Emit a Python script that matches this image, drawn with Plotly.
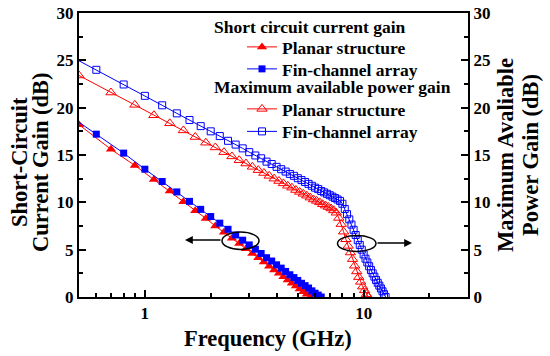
import plotly.graph_objects as go

# ---------------- data ----------------
sc_planar_f = [0.5, 0.7, 0.9, 1.1, 1.3, 1.5, 1.7, 1.9, 2.1, 2.3, 2.5, 2.7, 2.9, 3.1,
               3.3, 3.5, 3.7, 3.9, 4.1, 4.3, 4.5, 4.7, 4.9, 5.1, 5.3, 5.5, 5.7]
sc_planar_v = [18.2, 15.6, 13.9, 12.4, 11.2, 10.05, 9.1, 8.3, 7.5, 6.85, 6.2, 5.65, 5.1, 4.6,
               4.15, 3.7, 3.25, 2.85, 2.5, 2.15, 1.8, 1.45, 1.15, 0.85, 0.55, 0.3, 0.0]

sc_fin_f = [0.4, 0.6, 0.8, 1.0, 1.2, 1.4, 1.6, 1.8, 2.0, 2.2, 2.4, 2.6, 2.8, 3.0, 3.2, 3.4,
            3.6, 3.8, 4.0, 4.2, 4.4, 4.6, 4.8, 5.0, 5.2, 5.4, 5.6, 5.8, 6.0, 6.2, 6.4]
sc_fin_v = [20.0, 17.2, 15.2, 13.5, 12.2, 11.1, 10.1, 9.26, 8.5, 7.8, 7.15, 6.55, 6.0, 5.5,
            5.05, 4.6, 4.15, 3.8, 3.4, 3.05, 2.7, 2.35, 2.05, 1.75, 1.45, 1.2, 0.95, 0.65,
            0.4, 0.2, 0.0]

mag_planar_f = [0.5, 0.7, 0.9, 1.1, 1.3, 1.5, 1.7, 1.9, 2.1, 2.3, 2.5, 2.7, 2.9, 3.1, 3.3,
                3.5, 3.7, 3.9, 4.1, 4.3, 4.5, 4.7, 4.9, 5.1, 5.3, 5.5, 5.7, 5.9, 6.1, 6.3,
                6.5, 6.7, 6.9, 7.1, 7.3, 7.5, 7.7, 7.9, 8.1, 8.3, 8.5, 8.7, 8.9, 9.1, 9.3,
                9.5, 9.7, 9.9, 10.1, 10.3, 10.5]
mag_planar_v = [23.4, 21.6, 20.3, 19.2, 18.35, 17.6, 16.9, 16.3, 15.8, 15.3, 14.85, 14.45,
                14.1, 13.75, 13.4, 13.1, 12.8, 12.5, 12.25, 12.0, 11.75, 11.55, 11.3, 11.1,
                10.9, 10.7, 10.5, 10.3, 10.15, 10.0, 9.8, 9.65, 9.5, 9.35, 9.15, 8.9, 8.35,
                7.7, 6.9, 6.1, 5.4, 4.7, 4.0, 3.3, 2.7, 2.1, 1.6, 1.1, 0.7, 0.3, 0.0]

mag_fin_f = [0.4, 0.6, 0.8, 1.0, 1.2, 1.4, 1.6, 1.8, 2.0, 2.2, 2.4, 2.6, 2.8, 3.0, 3.2, 3.4,
             3.6, 3.8, 4.0, 4.2, 4.4, 4.6, 4.8, 5.0, 5.2, 5.4, 5.6, 5.8, 6.0, 6.2, 6.4, 6.6,
             6.8, 7.0, 7.2, 7.4, 7.6, 7.8, 8.0, 8.2, 8.4, 8.6, 8.8, 9.0, 9.2, 9.4, 9.6, 9.8,
             10.0, 10.2, 10.4, 10.6, 10.8, 11.0, 11.2, 11.4, 11.6, 11.8, 12.0, 12.2, 12.4, 12.6]
mag_fin_v = [26.15, 24.0, 22.45, 21.25, 20.25, 19.4, 18.7, 18.05, 17.5, 17.0, 16.5, 16.1,
             15.7, 15.3, 14.95, 14.65, 14.3, 14.05, 13.75, 13.5, 13.25, 13.0, 12.8, 12.55,
             12.35, 12.15, 11.95, 11.75, 11.55, 11.4, 11.2, 11.05, 10.9, 10.75, 10.6, 10.45,
             10.3, 10.15, 9.85, 9.3, 8.75, 8.2, 7.65, 7.1, 6.55, 6.0, 5.5, 5.0, 4.5, 4.05,
             3.65, 3.25, 2.85, 2.5, 2.15, 1.8, 1.5, 1.2, 0.9, 0.6, 0.3, 0.0]

x_major = [1, 10]
x_major_text = ["1", "10"]
x_minor = [0.6, 0.7, 0.8, 0.9, 2, 3, 4, 5, 6, 7, 8, 9, 20]

# ---------------- styling ----------------
FONT = "Liberation Serif"
RED = "#ff0000"
BLUE = "#0000ff"
W, H = 550, 356
L, R, T, B = 79, 82, 13, 59
PW, PH = W - L - R, H - T - B


def px(xp):
    return (xp - L) / PW


def py(yp):
    return (H - B - yp) / PH


fig = go.Figure()

fig.add_trace(go.Scatter(
    x=mag_planar_f, y=mag_planar_v, yaxis="y2", mode="lines+markers",
    name="Planar structure", legend="legend3", showlegend=True,
    line=dict(color=RED, width=1),
    marker=dict(symbol="triangle-up-open", size=9, color=RED, line=dict(width=1, color=RED))))
fig.add_trace(go.Scatter(
    x=mag_fin_f, y=mag_fin_v, yaxis="y2", mode="lines+markers",
    name="Fin-channel array", legend="legend4", showlegend=True,
    line=dict(color=BLUE, width=1),
    marker=dict(symbol="square-open", size=7, color=BLUE, line=dict(width=1, color=BLUE))))
fig.add_trace(go.Scatter(
    x=sc_planar_f, y=sc_planar_v, mode="lines+markers",
    name="Planar structure", legend="legend", showlegend=True,
    line=dict(color=RED, width=1),
    marker=dict(symbol="triangle-up", size=9, color=RED)))
fig.add_trace(go.Scatter(
    x=sc_fin_f, y=sc_fin_v, mode="lines+markers",
    name="Fin-channel array", legend="legend2", showlegend=True,
    line=dict(color=BLUE, width=1),
    marker=dict(symbol="square", size=7, color=BLUE)))

tickfont = dict(family=FONT, size=17, color="black", weight="bold")
legfont = dict(family=FONT, size=17.5, color="black", weight="bold")
titlefont = dict(family=FONT, size=22.5, color="black", weight="bold")

yaxis_common = dict(
    range=[0, 30], dtick=5, ticks="inside", ticklen=7, tickwidth=1.5, tickcolor="black",
    showline=True, linewidth=2, linecolor="black", showgrid=False, zeroline=False,
    tickfont=tickfont, automargin=False,
    minor=dict(dtick=2.5, ticks="inside", ticklen=4, tickwidth=1.5, tickcolor="black", showgrid=False),
)


def leg(yc):
    return dict(x=px(242), xanchor="left", y=py(yc), yanchor="middle",
                bgcolor="rgba(0,0,0,0)", borderwidth=0, font=legfont)


fig.update_layout(
    template="none",
    width=W, height=H, autosize=False,
    margin=dict(l=L, r=R, t=T, b=B, pad=0, autoexpand=False),
    paper_bgcolor="white", plot_bgcolor="white",
    font=dict(family=FONT, color="black"),
    showlegend=True,
    xaxis=dict(
        type="log", range=[-0.30103, 1.4771], tickvals=x_major, ticktext=x_major_text,
        ticks="inside", ticklen=7, tickwidth=1.5, tickcolor="black",
        showline=True, linewidth=2, linecolor="black", mirror=True,
        showgrid=False, zeroline=False, tickfont=tickfont, automargin=False,
        minor=dict(tickvals=x_minor, ticks="inside", ticklen=4, tickwidth=1.5,
                   tickcolor="black", showgrid=False),
    ),
    yaxis=dict(**yaxis_common, side="left"),
    yaxis2=dict(**yaxis_common, side="right", overlaying="y"),
    legend=leg(47),
    legend2=leg(69),
    legend3=leg(109),
    legend4=leg(131.5),
)

annotations = [
    dict(text="Short circuit current gain", x=px(212), y=py(27), xanchor="left", yanchor="middle"),
    dict(text="Maximum available power gain", x=px(212), y=py(87), xanchor="left", yanchor="middle"),
]
for a in annotations:
    a.update(xref="paper", yref="paper", showarrow=False, font=legfont)

titles = [
    dict(text="Frequency (GHz)", x=px(267.5), y=py(338), textangle=0),
    dict(text="Short-Circuit", x=px(19), y=py(162), textangle=-90),
    dict(text="Current Gain (dB)", x=px(40), y=py(162), textangle=-90),
    dict(text="Maximum Avaliable", x=px(505), y=py(155), textangle=-90),
    dict(text="Power Gain (dB)", x=px(530), y=py(155), textangle=-90),
]
for a in titles:
    a.update(xref="paper", yref="paper", showarrow=False, font=titlefont,
             xanchor="center", yanchor="middle")

arrows = [
    dict(x=px(185), y=py(240), ax=37, ay=0),
    dict(x=px(412), y=py(243), ax=-36, ay=0),
]
for a in arrows:
    a.update(xref="paper", yref="paper", text="", showarrow=True, arrowhead=2,
             arrowsize=1.2, arrowwidth=1.3, arrowcolor="black")

fig.update_layout(annotations=annotations + titles + arrows)

fig.add_shape(type="circle", xref="paper", yref="paper",
              x0=px(222), x1=px(259), y0=py(249.5), y1=py(232),
              line=dict(color="black", width=1.5))
fig.add_shape(type="circle", xref="paper", yref="paper",
              x0=px(337.5), x1=px(376), y0=py(251.5), y1=py(235.5),
              line=dict(color="black", width=1.5))

fig.write_html("out.html", config={"displayModeBar": False},
               post_script="document.body.style.margin='0px';")
